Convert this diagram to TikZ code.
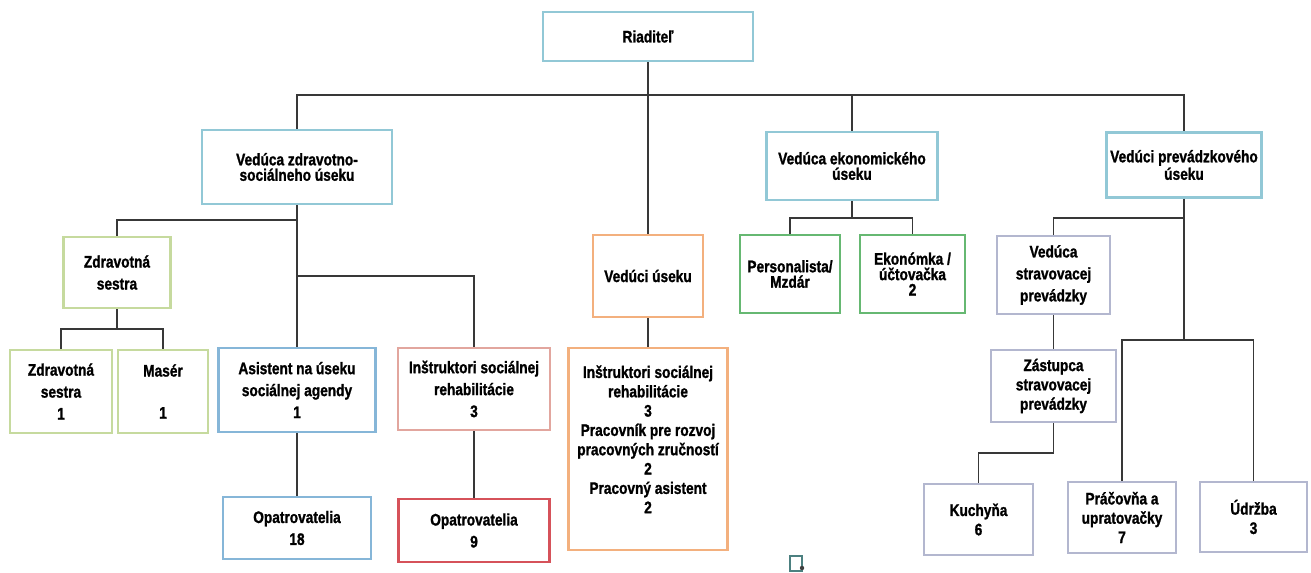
\documentclass[tikz,border=0pt]{standalone}
\usepackage{fontspec}
\setmainfont{Liberation Sans}[FakeStretch=0.82, BoldFeatures={FakeBold=1.2}]

\definecolor{tealbox}{HTML}{92C8D6}
\definecolor{bluebox}{HTML}{86B6D8}
\definecolor{limebox}{HTML}{C6DA9E}
\definecolor{greenbox}{HTML}{66B872}
\definecolor{orangebox}{HTML}{F3B07E}
\definecolor{rosebox}{HTML}{E2A69E}
\definecolor{redbox}{HTML}{D6525A}
\definecolor{lilacbox}{HTML}{B3B7CF}
\definecolor{linegray}{HTML}{383838}

\tikzset{
  box/.style={draw=#1, line width=1.5pt, fill=white, align=center,
    inner sep=2pt, font=\bfseries\fontsize{9.5}{11}\selectfont},
  wh/.style 2 args={minimum width=#1*0.02cm, minimum height=#2*0.02cm},
  tight/.style={font=\bfseries\fontsize{9.5}{8.8}\selectfont},
  loose/.style={font=\bfseries\fontsize{9.5}{12.5}\selectfont},
  conn/.style={draw=linegray, line width=1pt},
}

\begin{document}
\begin{tikzpicture}[x=0.02cm, y=-0.02cm]

    \useasboundingbox (0,0) rectangle (1311,573);

    % Top
    \node[box=tealbox, wh={210}{49}] (riad) at (648,36.5) {Riaditeľ};

    % Heads of sections
    \node[box=tealbox, wh={190}{74}, tight] (vzs) at (297,167) {Vedúca zdravotno-\\sociálneho úseku};
    \node[box=tealbox, wh={171}{68}, tight] (vek) at (852,166) {Vedúca ekonomického\\úseku};
    \node[box=tealbox, wh={154}{65}, tight] (vpu) at (1184,165) {Vedúci prevádzkového\\úseku};

    % Second row
    \node[box=limebox, wh={107}{71}, loose] (zs) at (117,272.5) {Zdravotná\\sestra};
    \node[box=orangebox, wh={110}{82}] (vu) at (648,276) {Vedúci úseku};
    \node[box=greenbox, wh={100}{78}, tight] (per) at (790,274) {Personalista/\\Mzdár};
    \node[box=greenbox, wh={105}{78}, tight] (eko) at (912.5,274) {Ekonómka /\\účtovačka\\2};
    \node[box=lilacbox, wh={113}{78}, loose] (vst) at (1053.5,275) {Vedúca\\stravovacej\\prevádzky};

    % Third row
    \node[box=limebox, wh={102}{83}, loose] (zs1) at (61,391.5) {Zdravotná\\sestra\\1};
    \node[box=limebox, wh={90}{83}] (mas) at (163,391.5) {Masér\\[13pt]1};
    \node[box=bluebox, wh={157}{84}, loose] (asis) at (297,390) {Asistent na úseku\\sociálnej agendy\\1};
    \node[box=rosebox, wh={152}{82}, loose] (ins) at (474,389) {Inštruktori sociálnej\\rehabilitácie\\3};
    \node[box=orangebox, wh={159}{202}] (vul) at (648,449) {Inštruktori sociálnej\\rehabilitácie\\3\\Pracovník pre rozvoj\\pracovných zručností\\2\\Pracovný asistent\\2\\ \mbox{}};
    \node[box=lilacbox, wh={125}{72}] (zas) at (1053.5,386) {Zástupca\\stravovacej\\prevádzky};

    % Bottom row
    \node[box=bluebox, wh={148}{62}, loose] (op18) at (297,528) {Opatrovatelia\\18};
    \node[box=redbox, wh={151}{63}, loose] (op9) at (474,530.5) {Opatrovatelia\\9};
    \node[box=lilacbox, wh={109}{71}] (kuch) at (978.5,519.5) {Kuchyňa\\6};
    \node[box=lilacbox, wh={108}{71}] (pra) at (1122,517.5) {Práčovňa a\\upratovačky\\7};
    \node[box=lilacbox, wh={107}{70}] (udr) at (1253.5,517) {Údržba\\3};

    % Connectors from the top
    \draw[conn] (riad.south) -- (vu.north);
    \draw[conn] (vzs.north) -- ++(0,-34) -| (vpu.north);
    \draw[conn] (vek.north) -- ++(0,-36);

    % Health and social section
    \draw[conn] (vzs.south) -- (asis.north);
    \draw[conn] (vzs.south) ++(0,15) -| (zs.north);
    \draw[conn] (vzs.south) ++(0,71) -| (ins.north);
    \draw[conn] (zs.south) -- ++(0,20) -| (zs1.north);
    \draw[conn] (zs.south) ++(0,20) -| (mas.north);
    \draw[conn] (asis.south) -- (op18.north);
    \draw[conn] (ins.south) -- (op9.north);
    \draw[conn] (vu.south) -- (vul.north);

    % Economic section
    \draw[conn] (vek.south) -- ++(0,17) -| (per.north);
    \draw[conn] (vek.south) ++(0,17) -| (eko.north);

    % Operations section
    \draw[conn] (vpu.south) -- ++(0,19) -| (vst.north);
    \draw[conn] (vpu.south) -- ++(0,141) coordinate (bus) -| (pra.north);
    \draw[conn] (bus) -| (udr.north);
    \draw[conn] (vst.south) -- (zas.north);
    \draw[conn] (zas.south) -- ++(0,30) -| (kuch.north);

    % Small mark at the bottom
    \draw[gray!60!teal, line width=1.2pt] (790,556) rectangle (802,571);
    \fill[black!75] (802,568) circle (2.2);

\end{tikzpicture}
\end{document}
